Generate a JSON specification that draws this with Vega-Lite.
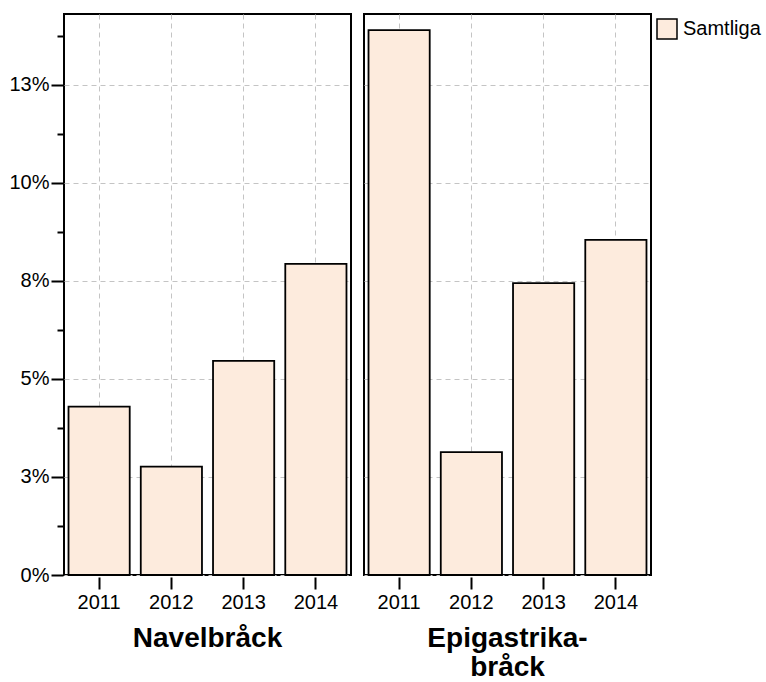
{
  "$schema": "https://vega.github.io/schema/vega-lite/v6.json",
  "padding": {"top": 13, "left": 8, "right": 2, "bottom": 0},
  "data": {"values": [
    {"typ": "Navelbråck", "ar": "2011", "andel": 4.29, "serie": "Samtliga"},
    {"typ": "Navelbråck", "ar": "2012", "andel": 2.76, "serie": "Samtliga"},
    {"typ": "Navelbråck", "ar": "2013", "andel": 5.46, "serie": "Samtliga"},
    {"typ": "Navelbråck", "ar": "2014", "andel": 7.93, "serie": "Samtliga"},
    {"typ": "Epigastrika-bråck", "ar": "2011", "andel": 13.89, "serie": "Samtliga"},
    {"typ": "Epigastrika-bråck", "ar": "2012", "andel": 3.13, "serie": "Samtliga"},
    {"typ": "Epigastrika-bråck", "ar": "2013", "andel": 7.44, "serie": "Samtliga"},
    {"typ": "Epigastrika-bråck", "ar": "2014", "andel": 8.54, "serie": "Samtliga"}
  ]},
  "facet": {
    "column": {
      "field": "typ", "type": "nominal",
      "sort": ["Navelbråck", "Epigastrika-bråck"],
      "title": null,
      "header": {
        "labelOrient": "bottom",
        "labelFont": "Liberation Sans",
        "labelFontSize": 28,
        "labelFontWeight": "bold",
        "labelColor": "black",
        "labelBaseline": "top",
        "labelPadding": 13,
        "labelLineHeight": 29,
        "labelExpr": "datum.value == 'Epigastrika-bråck' ? ['Epigastrika-', 'bråck'] : datum.label"
      }
    }
  },
  "spacing": 11,
  "spec": {
    "width": 287,
    "height": 561,
    "mark": {"type": "bar", "stroke": "black", "strokeWidth": 1.8},
    "encoding": {
      "x": {
        "field": "ar", "type": "ordinal", "title": null,
        "scale": {"paddingInner": 0.153, "paddingOuter": 0.0625},
        "axis": {"labelAngle": 0, "grid": true}
      },
      "y": {
        "field": "andel", "type": "quantitative", "title": null,
        "scale": {"domain": [0, 14.3], "nice": false},
        "axis": {
          "values": [0, 1.25, 2.5, 3.75, 5, 6.25, 7.5, 8.75, 10, 11.25, 12.5, 13.75],
          "labelExpr": "datum.value % 2.5 == 0 ? round(datum.value) + '%' : ''",
          "tickSize": {"condition": {"test": "datum.value % 2.5 == 0", "value": 12}, "value": 6},
          "gridOpacity": {"condition": {"test": "datum.value % 2.5 == 0", "value": 1}, "value": 0}
        }
      },
      "fill": {
        "field": "serie", "type": "nominal",
        "scale": {"range": ["#FDEBDD"]},
        "legend": {"title": null}
      }
    }
  },
  "config": {
    "view": {"stroke": "black", "strokeWidth": 2},
    "axis": {
      "domain": false,
      "tickColor": "black",
      "tickWidth": 2,
      "tickSize": 12,
      "labelFont": "Liberation Sans",
      "labelFontSize": 20,
      "labelColor": "black",
      "gridColor": "#c4c4c4",
      "gridDash": [5, 4],
      "gridWidth": 1
    },
    "axisX": {"labelPadding": 3},
    "axisY": {"labelPadding": 2},
    "legend": {
      "orient": "right",
      "offset": 0,
      "padding": 4,
      "symbolType": "square",
      "symbolSize": 400,
      "symbolStrokeColor": "black",
      "symbolStrokeWidth": 1.5,
      "labelFont": "Liberation Sans",
      "labelFontSize": 20,
      "labelColor": "black",
      "labelOffset": 5
    }
  }
}
